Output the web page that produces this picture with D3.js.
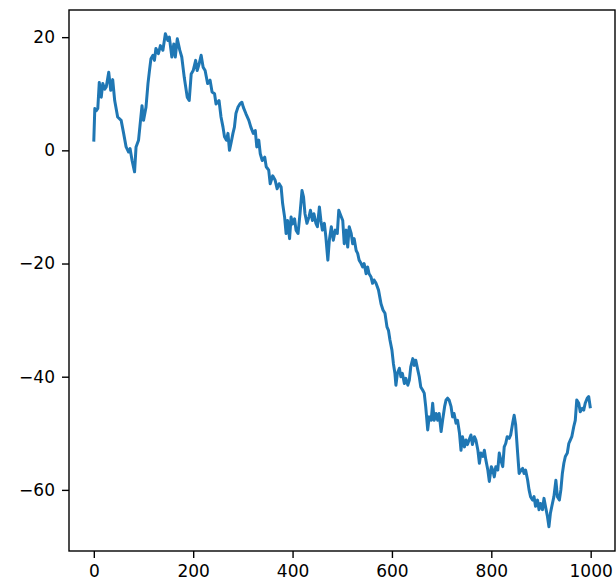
<!DOCTYPE html>
<html>
<head>
<meta charset="utf-8">
<script src="https://cdn.jsdelivr.net/npm/d3@7"></script>
<style>
  body { margin: 0; background: #fff; }
  .tick text { font-family: "DejaVu Sans", sans-serif; font-size: 17px; fill: #000; }
</style>
</head>
<body>
<svg id="chart"></svg>
<script>
// points: step index and value
const steps = [0, 2, 5, 8, 11, 15, 18, 22, 25, 30, 34, 38, 42, 48, 55, 60, 65, 70, 73, 77, 82, 85, 90, 94, 97,
  100, 105, 109, 112, 115, 119, 122, 125, 130, 134, 139, 144, 149, 152, 157, 161, 164, 168, 173, 177, 182, 188,
  192, 196, 200, 205, 208, 212, 216, 220, 224, 229, 234, 238, 243, 246, 252, 256, 260, 263, 267, 270, 273, 276,
  280, 283, 286, 290, 294, 298, 301, 306, 312, 316, 321, 325, 328, 332, 335, 339, 344, 347, 352, 355, 360, 365,
  369, 373, 377, 380, 384, 387, 390, 394, 397, 400, 404, 407, 411, 415, 419, 422, 425, 429, 433, 436, 440, 443,
  447, 450, 454, 457, 460, 464, 467, 471, 474, 478, 482, 486, 490, 493, 497, 501, 504, 508, 511, 514, 518, 521,
  524, 528, 531, 534, 538, 541, 544, 548, 551, 554, 558, 561, 564, 568, 573, 578, 582, 586, 590, 593, 596, 600,
  603, 606, 608, 611, 615, 618, 621, 625, 628, 632, 635, 638, 642, 645, 648, 652, 655, 658, 662, 665, 668, 672,
  675, 679, 682, 685, 689, 692, 695, 699, 702, 706, 709, 712, 715, 719, 722, 725, 729, 732, 736, 739, 742, 746,
  749, 752, 756, 759, 762, 766, 769, 773, 776, 779, 783, 786, 789, 793, 796, 800, 803, 806, 809, 813, 816, 819,
  823, 826, 829, 832, 836, 839, 843, 846, 849, 853, 856, 860, 863, 866, 869, 873, 876, 879, 883, 886, 889, 893,
  896, 899, 903, 906, 909, 913, 916, 919, 923, 926, 930, 933, 937, 940, 943, 946, 949, 953, 956, 959, 962, 966,
  969, 972, 976, 979, 983, 986, 989, 993, 996, 999];
const values = [1.8, 7.4, 7.0, 7.4, 12.0, 9.4, 11.8, 10.8, 11.2, 13.8, 10.6, 12.5, 8.8, 5.9, 5.3, 3.0, 0.6, -0.3, 0.3, -1.8, -3.8, 0.6, 1.8, 5.3, 7.9,
  5.3, 7.6, 11.8, 14.1, 16.2, 16.8, 15.9, 18.0, 17.1, 18.5, 17.7, 20.6, 19.4, 20.0, 16.5, 18.8, 16.5, 19.7, 17.7, 16.5, 12.9, 9.4,
  8.8, 13.5, 14.1, 15.9, 14.1, 15.3, 16.8, 14.7, 14.1, 11.8, 12.4, 10.3, 10.0, 8.2, 8.8, 5.9, 4.1, 2.4, 1.8, 3.0, 0.0, 1.2,
  3.0, 4.1, 6.5, 7.6, 8.2, 8.5, 7.6, 6.5, 5.3, 4.1, 3.0, 3.5, 0.6, 1.8, -0.6, -1.8, -1.2, -2.9, -3.5, -5.9, -4.5, -5.3,
  -6.8, -5.9, -6.5, -9.4, -11.8, -14.7, -12.4, -15.6, -11.8, -13.0, -12.1, -14.1, -14.7, -11.2, -7.1, -8.2, -11.2, -12.9, -11.8, -10.6, -12.4, -11.2,
  -12.9, -13.5, -10.0, -12.4, -14.1, -12.9, -15.3, -19.4, -15.9, -13.5, -15.9, -14.1, -14.7, -10.6, -11.5, -12.4, -16.5, -14.1, -17.1, -13.5, -14.7, -16.5,
  -15.6, -17.7, -18.2, -19.4, -20.0, -20.6, -20.0, -21.8, -20.6, -21.8, -22.4, -23.5, -22.9, -23.5, -24.7, -27.1, -28.2, -28.8, -31.2, -31.8, -33.5, -35.3,
  -37.7, -39.4, -41.5, -39.4, -38.5, -40.0, -39.4, -41.2, -40.3, -41.5, -40.6, -38.2, -36.8, -38.0, -37.1, -38.8, -40.0, -41.8, -42.4, -42.9, -45.3, -49.4,
  -47.1, -47.7, -44.7, -47.7, -46.5, -47.7, -46.5, -49.7, -47.7, -45.3, -44.1, -43.8, -44.1, -45.3, -47.1, -46.5, -48.2, -47.7, -50.0, -53.0, -50.6, -52.4,
  -51.2, -52.0, -51.0, -50.3, -52.0, -50.6, -51.2, -53.0, -55.3, -53.5, -54.1, -53.0, -54.7, -56.5, -58.5, -55.9, -56.5, -57.7, -55.9, -56.5, -53.5, -54.7,
  -55.9, -52.4, -51.8, -50.6, -50.9, -50.3, -48.2, -46.8, -48.5, -53.5, -57.1, -56.5, -56.2, -57.1, -56.5, -58.2, -60.0, -61.2, -61.8, -61.2, -62.9, -61.8,
  -63.5, -62.4, -63.5, -61.5, -62.9, -64.7, -66.5, -64.1, -62.4, -61.2, -58.3, -61.2, -61.8, -60.0, -57.1, -55.3, -54.1, -53.5, -51.8, -51.2, -50.6, -48.8,
  -47.7, -44.1, -44.7, -46.2, -45.6, -45.9, -44.7, -43.8, -43.5, -45.3];

const xTicks = [0, 200, 400, 600, 800, 1000];
const yTicks = [-60, -40, -20, 0, 20];
const xLimits = [-49.95, 1048.95];
const yLimits = [-70.8, 24.8];

const width = 616;
const height = 584;
const margin = { top: 10, right: 1, bottom: 33, left: 69 };

const svg = d3.select("#chart")
    .attr("width", width)
    .attr("height", height);

const x = d3.scaleLinear()
    .domain(xLimits)
    .range([margin.left, width - margin.right]);

const y = d3.scaleLinear()
    .domain(yLimits)
    .range([height - margin.bottom, margin.top]);

const line = d3.line()
    .x((d, i) => x(steps[i]))
    .y(d => y(d));

svg.append("path")
    .datum(values)
    .attr("fill", "none")
    .attr("stroke", "#1f77b4")
    .attr("stroke-width", 3)
    .attr("stroke-linejoin", "round")
    .attr("stroke-linecap", "square")
    .attr("d", line);

const xAxis = svg.append("g")
    .attr("transform", `translate(0, ${height - margin.bottom})`)
    .call(d3.axisBottom(x).tickValues(xTicks).tickSize(7).tickPadding(7).tickFormat(d3.format("d")));

const yAxis = svg.append("g")
    .attr("transform", `translate(${margin.left}, 0)`)
    .call(d3.axisLeft(y).tickValues(yTicks).tickSize(7).tickPadding(7));

[xAxis, yAxis].forEach(g => {
    g.select(".domain").remove();
    g.selectAll(".tick line").attr("stroke", "#000").attr("stroke-width", 1.4);
});

// frame around the plot area
svg.append("rect")
    .attr("x", margin.left)
    .attr("y", margin.top)
    .attr("width", width - margin.right - margin.left)
    .attr("height", height - margin.bottom - margin.top)
    .attr("fill", "none")
    .attr("stroke", "#000")
    .attr("stroke-width", 1.4);
</script>
</body>
</html>
